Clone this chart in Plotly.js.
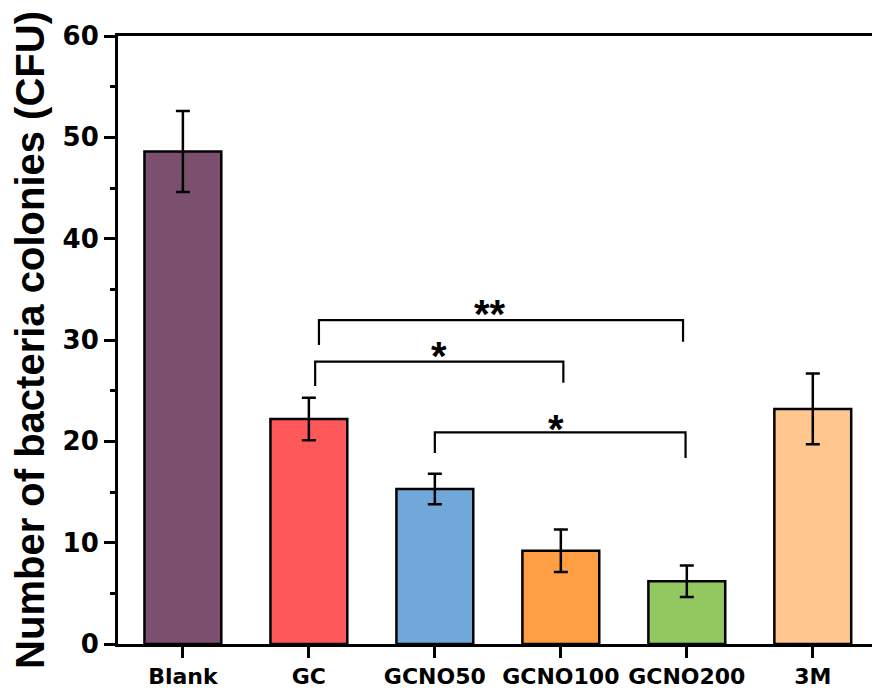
<!DOCTYPE html>
<html>
<head>
<meta charset="utf-8">
<script src="https://cdn.plot.ly/plotly-3.0.1.min.js"></script>
<style>html,body{margin:0;padding:0;overflow:hidden;background:#fff}</style>
</head>
<body>
<div id="chart" style="width:872px;height:693px"></div>
<script>
// Data
const categories = ['Blank', 'GC', 'GCNO50', 'GCNO100', 'GCNO200', '3M'];
const meanValues = [48.6, 22.2, 15.3, 9.2, 6.2, 23.2];
const errValues  = [4.0, 2.1, 1.5, 2.1, 1.55, 3.5];
const barColors  = ['#7B506E', '#FF585A', '#70A8DA', '#FF9E42', '#93C75F', '#FFC68E'];
const yTickVals  = [0, 10, 20, 30, 40, 50, 60];

// significance brackets (x in category index units, y in data units)
const bracketX0   = [1.08, 1.05, 2.00];
const bracketX1   = [3.97, 3.02, 3.99];
const bracketY    = [31.97, 27.86, 20.89];
const legLeftEnd  = [29.5, 25.46, 18.85];
const legRightEnd = [29.83, 25.79, 18.36];
const sigLabels   = ['**', '*', '*'];
const sigLabelX   = [2.44, 2.03, 2.96];
const sigLabelY   = [33.45, 29.3, 22.1];

const FONT = 'Liberation Sans, Arial, sans-serif';
const TICKFONT = 'DejaVu Sans, Liberation Sans, sans-serif';

const trace = {
  type: 'bar',
  x: categories.map((c, i) => i),
  y: meanValues,
  width: 0.61,
  marker: { color: barColors, line: { color: '#000', width: 2.5 } },
  error_y: { type: 'data', array: errValues, visible: true, color: '#000', thickness: 2.5, width: 7 },
  hoverinfo: 'skip'
};

const shapes = [];
for (let i = 0; i < bracketX0.length; i++) {
  shapes.push({
    type: 'path', xref: 'x', yref: 'y',
    path: `M ${bracketX0[i]},${legLeftEnd[i]} L ${bracketX0[i]},${bracketY[i]} L ${bracketX1[i]},${bracketY[i]} L ${bracketX1[i]},${legRightEnd[i]}`,
    line: { color: '#000', width: 2.2 }
  });
}
const annotations = sigLabels.map((t, i) => ({
  x: sigLabelX[i], y: sigLabelY[i], xref: 'x', yref: 'y',
  text: '<b>' + t + '</b>', showarrow: false,
  xanchor: 'center', yanchor: 'middle', yshift: -9,
  font: { family: FONT, size: 40, color: '#000' }
}));

const layout = {
  width: 872, height: 693,
  margin: { l: 118, r: 0, t: 36, b: 49 },
  paper_bgcolor: '#fff', plot_bgcolor: '#fff',
  showlegend: false,
  xaxis: {
    range: [-0.515, 5.47],
    tickmode: 'array', tickvals: categories.map((c, i) => i), ticktext: categories.map(c => '<b>' + c + '</b>'),
    ticks: 'outside', ticklen: 11, tickwidth: 3, tickcolor: '#000',
    showline: true, linecolor: '#000', linewidth: 3, mirror: true,
    showgrid: false, zeroline: false,
    tickfont: { family: TICKFONT, size: 22, color: '#000' }
  },
  yaxis: {
    range: [0, 60],
    tickmode: 'array', tickvals: yTickVals, ticktext: yTickVals.map(v => '<b>' + v + '</b>'),
    ticks: 'outside', ticklen: 11, tickwidth: 3, tickcolor: '#000',
    minor: { dtick: 5, tick0: 0, ticks: 'outside', ticklen: 5, tickwidth: 3, tickcolor: '#000', showgrid: false },
    showline: true, linecolor: '#000', linewidth: 3,
    showgrid: false, zeroline: false,
    tickfont: { family: TICKFONT, size: 26, color: '#000' },
    title: { text: '<b>Number of bacteria colonies (CFU)</b>', font: { family: FONT, size: 40, color: '#000' }, standoff: 6 }
  },
  shapes: shapes,
  annotations: annotations
};

Plotly.newPlot('chart', [trace], layout, { displayModeBar: false, staticPlot: true });
</script>
</body>
</html>
